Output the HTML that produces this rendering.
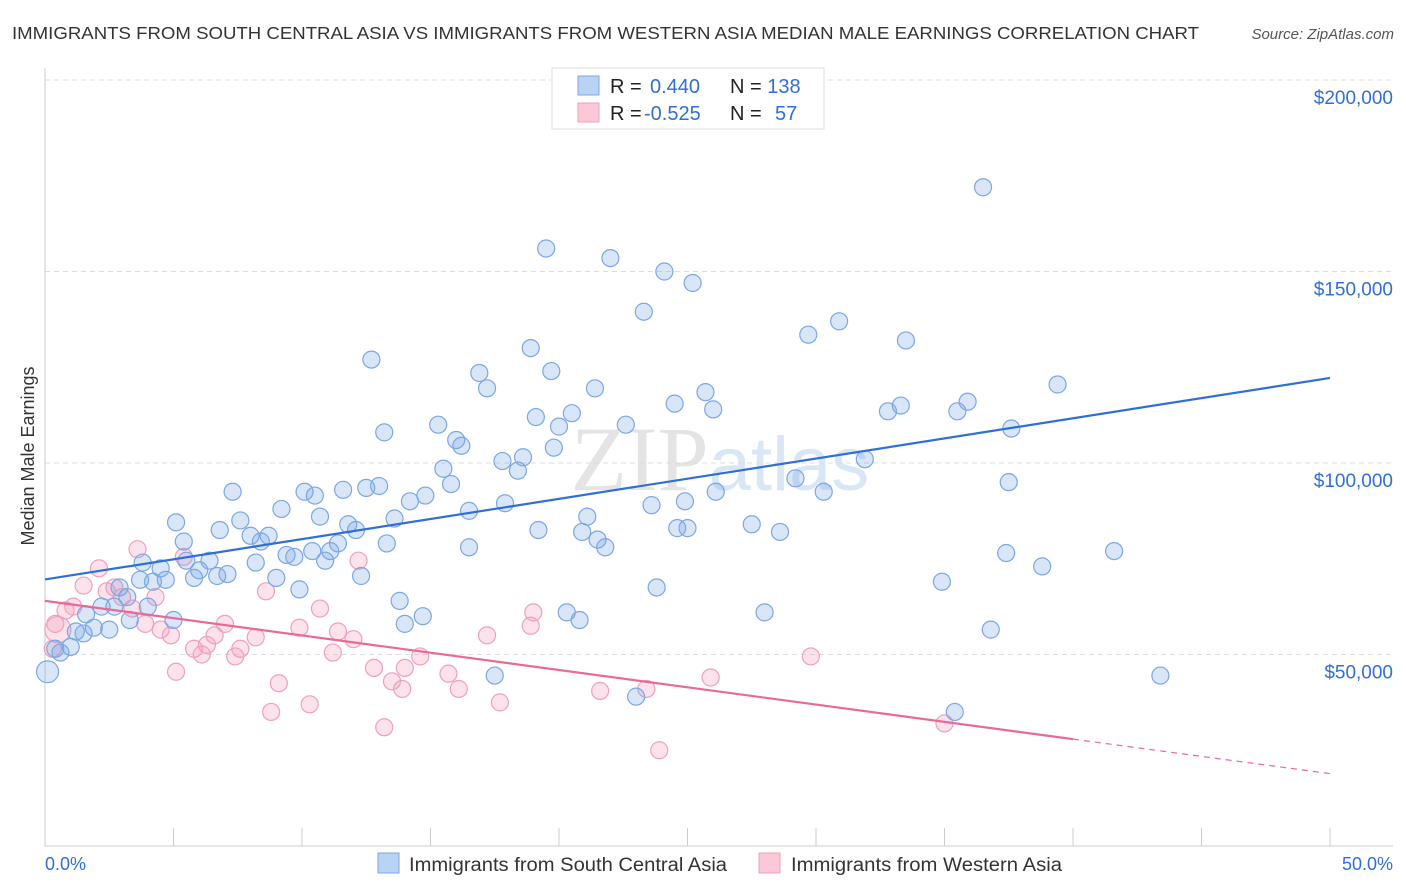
<!DOCTYPE html>
<html><head><meta charset="utf-8"><style>
body{margin:0;background:#fff;font-family:"Liberation Sans",sans-serif;}
#wrap{position:relative;width:1406px;height:892px;overflow:hidden;}
</style></head><body>
<div id="wrap">
<svg id="svg" width="1406" height="892" xmlns="http://www.w3.org/2000/svg">
<text x="12" y="39" font-size="17.5" fill="#333" textLength="1187" lengthAdjust="spacingAndGlyphs">IMMIGRANTS FROM SOUTH CENTRAL ASIA VS IMMIGRANTS FROM WESTERN ASIA MEDIAN MALE EARNINGS CORRELATION CHART</text>
<text x="1394" y="39" font-size="15" fill="#555" font-style="italic" text-anchor="end">Source: ZipAtlas.com</text>
<text x="720" y="490" font-size="92" fill="#e4e4e4" text-anchor="middle" font-family="Liberation Serif">ZIP<tspan fill="#d8e6f6" font-family="Liberation Sans" font-size="76">atlas</tspan></text>
<g id="grid"></g><g id="pts"></g><g id="lines"></g>
<text transform="translate(34,456) rotate(-90)" font-size="18" fill="#333" text-anchor="middle">Median Male Earnings</text>
<g>
<rect x="552" y="68" width="272" height="61" fill="#fff" stroke="#ddd"/>
<rect x="578" y="76" width="21" height="19" fill="#b9d3f5" stroke="#7aa7e5"/>
<rect x="578" y="103" width="21" height="19" fill="#fbc8d8" stroke="#f0a0ba"/>
<text x="610" y="93" font-size="20" fill="#222">R = <tspan fill="#2f6fd6" x="650">0.440</tspan><tspan x="730">N = </tspan><tspan fill="#2f6fd6">138</tspan></text>
<text x="610" y="120" font-size="20" fill="#222">R = <tspan fill="#2f6fd6" x="644">-0.525</tspan><tspan x="730">N = </tspan><tspan fill="#2f6fd6" x="775">57</tspan></text>
</g>
<g>
<rect x="378" y="853" width="21" height="20" fill="#b9d3f5" stroke="#7aa7e5"/>
<text x="409" y="871" font-size="19" fill="#333" textLength="318" lengthAdjust="spacingAndGlyphs">Immigrants from South Central Asia</text>
<rect x="759" y="853" width="21" height="20" fill="#fbc8d8" stroke="#f0a0ba"/>
<text x="791" y="871" font-size="19" fill="#333" textLength="271" lengthAdjust="spacingAndGlyphs">Immigrants from Western Asia</text>
</g>
<text x="45" y="870" font-size="18" fill="#2f6fd6">0.0%</text>
<text x="1393" y="870" font-size="18" fill="#2f6fd6" text-anchor="end">50.0%</text>
</svg></div>
<script>
const yTicks=[50,100,150,200];
const yTickLabels=["$50,000","$100,000","$150,000","$200,000"];
const xTicks=[0,5,10,15,20,25,30,35,40,45,50];
const blueX=[36.5,19.5,22.0,24.1,25.2,23.3,30.9,29.7,33.5,18.9,12.7,19.7,16.9,17.2,39.4,21.4,25.7,24.5,33.3,35.9,26.0,32.8,35.5,20.5,19.1,15.3,22.6,37.6,20.0,13.2,16.0,16.2,19.8,31.9,17.8,18.6,15.5,18.4,29.2,37.5,15.8,12.5,13.0,7.3,10.1,11.6,26.1,30.3,10.5,14.8,14.2,24.9,17.9,23.6,9.2,16.5,10.7,13.6,21.1,5.1,7.6,11.8,27.5,24.6,25.0,6.8,12.1,19.2,20.9,28.6,8.7,8.0,21.5,5.4,8.4,13.3,11.4,21.8,16.5,11.1,9.4,10.4,37.4,41.6,9.7,10.9,6.4,5.5,3.8,8.2,38.8,4.5,6.0,7.1,6.7,12.3,9.0,5.8,3.7,4.7,4.2,34.9,23.8,2.9,9.9,3.2,13.8,4.0,2.2,2.7,20.3,28.0,1.6,14.7,5.0,3.3,20.8,14.0,1.9,2.5,36.8,1.2,1.5,0.4,1.0,0.6,0.1,43.4,17.5,23.0,35.4];
const blueY=[172,156,153.5,150,147,139.5,137,133.5,132,130,127,124,123.5,119.5,120.5,119.5,118.5,115.5,115,116,114,113.5,113.5,113,112,110,110,109,109.5,108,106,104.5,104,101,100.5,101.5,98.5,98,96,95,94.5,93.5,94,92.5,92.5,93,92.5,92.5,91.5,91.5,90,90,89.5,89,88,87.5,86,85.5,86,84.5,85,84,84,83,83,82.5,82.5,82.5,82,82,81,81,80,79.5,79.5,79,79,78,78,77,76,77,76.5,77,75.5,74.5,74.5,74.5,74,74,73,72.5,72,71,70.5,70.5,70,70,69.5,69.5,69,69,67.5,67.5,67,65,64,62.5,62.5,62.5,61,61,60.5,60,59,59,59,58,57,56.5,56.5,56,55.5,51.5,52,50.5,45.5,44.5,44.5,39,35];
const pinkX=[3.6,5.4,12.2,2.1,1.5,2.7,2.4,8.6,4.3,3.0,1.1,0.8,10.7,19.0,3.4,0.4,7.0,3.9,18.9,11.4,9.9,4.5,4.9,6.6,8.2,17.2,12.0,6.3,7.6,5.8,11.2,6.1,7.4,14.6,29.8,12.8,14.0,15.7,5.1,25.9,13.5,9.1,13.9,16.1,21.6,23.4,10.3,17.7,8.8,13.2,35.0,23.9,0.3,0.5];
const pinkY=[77.5,75.5,74.5,72.5,68,67.5,66.5,66.5,65,65,62.5,61.5,62,61,62,58,58,58,57.5,56,57,56.5,55,55,54.5,55,54,52.5,51.5,51.5,50.5,50,49.5,49.5,49.5,46.5,46.5,45,45.5,44,43,42.5,41,41,40.5,41,37,37.5,35,31,32,25,51.5,56.5];
const blueTrendX=[0,50], blueTrendY=[69.6,122.2];
const pinkTrendX=[0,40,50], pinkTrendY=[64.0,27.9,18.9];
const X=v=>45+v/50*1285, Y=v=>846-v/50*191.5;
const NS="http://www.w3.org/2000/svg";
function mk(t,a,p){const e=document.createElementNS(NS,t);for(const k in a)e.setAttribute(k,a[k]);p.appendChild(e);return e;}
const grid=document.getElementById('grid');
yTicks.forEach((t,i)=>{
 const l=mk('line',{x1:45,x2:1393,y1:Y(t),y2:Y(t),stroke:'#ddd','stroke-dasharray':'5,4'},grid);
 
 
 const tx=mk('text',{x:1393,y:Y(t)+24,'font-size':19,fill:'#2f6fd6','text-anchor':'end'},grid);
 tx.textContent=yTickLabels[i];
 
 
});
const ax=mk('line',{x1:45,x2:45,y1:68,y2:846,stroke:'#ccc'},grid);


const bx=mk('line',{x1:45,x2:1393,y1:846,y2:846,stroke:'#ccc'},grid);


xTicks.forEach(t=>{
 const l=mk('line',{x1:X(t),x2:X(t),y1:828,y2:846,stroke:'#ccc'},grid);
 
 
});
const pts=document.getElementById('pts');
pinkX.forEach((x,i)=>{
 const c=mk('circle',{cx:X(x),cy:Y(pinkY[i]),r:i==pinkX.length-1?13:8.5,fill:'rgba(244,160,188,0.3)',stroke:'#f0a0ba','stroke-width':1.2},pts);
 
 
});
blueX.forEach((x,i)=>{
 const c=mk('circle',{cx:X(x),cy:Y(blueY[i]),r:i==blueX.length-5?11:8.5,fill:'rgba(120,165,230,0.28)',stroke:'#7aa7e5','stroke-width':1.2},pts);
 
 
});
const lines=document.getElementById('lines');
const b=mk('line',{x1:X(blueTrendX[0]),y1:Y(blueTrendY[0]),x2:X(blueTrendX[1]),y2:Y(blueTrendY[1]),stroke:'#2f6fd6','stroke-width':2.2},lines);


const p1=mk('line',{x1:X(pinkTrendX[0]),y1:Y(pinkTrendY[0]),x2:X(pinkTrendX[1]),y2:Y(pinkTrendY[1]),stroke:'#e8699a','stroke-width':2.2},lines);


const p2=mk('line',{x1:X(pinkTrendX[1]),y1:Y(pinkTrendY[1]),x2:X(pinkTrendX[2]),y2:Y(pinkTrendY[2]),stroke:'#e8699a','stroke-width':1.2,'stroke-dasharray':'6,5'},lines);


</script>
</body></html>
